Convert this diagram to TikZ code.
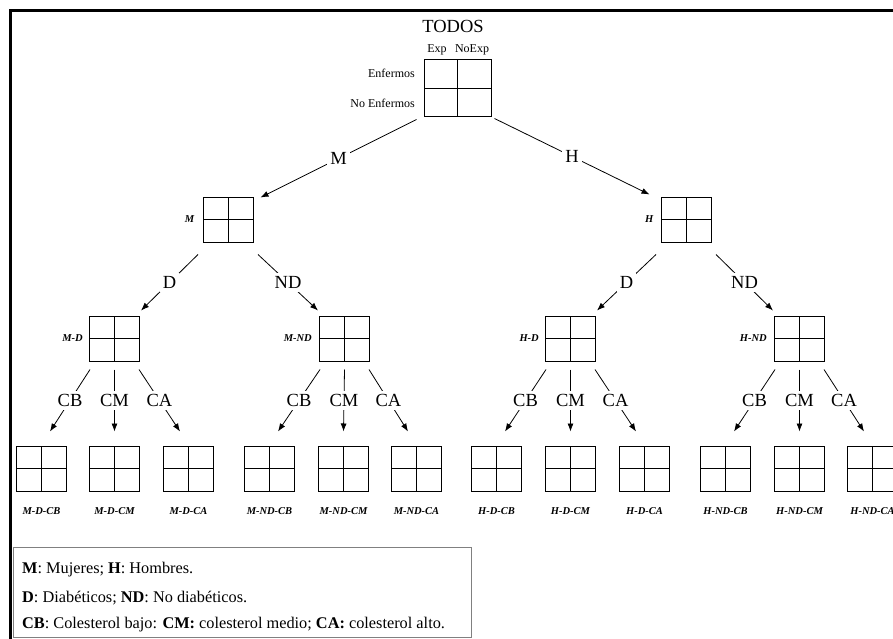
\documentclass[tikz,border=0pt]{standalone}
\usepackage{fontspec}
\setmainfont{Liberation Serif}
\usetikzlibrary{arrows.meta,positioning}

\tikzset{
  tabla/.style={draw, line width=1pt, minimum width=50pt, minimum height=45pt, inner sep=0pt,
    path picture={\draw[line width=1pt] (path picture bounding box.north) -- (path picture bounding box.south)
      (path picture bounding box.west) -- (path picture bounding box.east);}},
  rama/.style={-{Latex[length=8pt,width=6pt]}, line width=0.8pt},
  etiq/.style={fill=white, inner sep=3pt, font=\fontsize{18.5}{20}\selectfont},
  nombre/.style={font=\fontsize{10.5}{12}\selectfont\bfseries\itshape, inner sep=0pt},
  chico/.style={font=\fontsize{12}{14}\selectfont, inner sep=0pt},
  leyenda/.style={font=\fontsize{16.3}{18}\selectfont, anchor=west, inner sep=0pt},
}

\begin{document}
\begin{tikzpicture}[x=1pt, y=-1pt]
\useasboundingbox ( 0, 0 ) rectangle ( 893, 639 );

% marco
            \draw [line width=3pt] ( 10, 639 ) -- ( 10, 10.5 ) -- ( 893, 10.5 );

% raiz
            \node [tabla, minimum width=67pt, minimum height=57pt] (todos) at ( 457.5, 88.5 ) {};
            \node [font=\fontsize{18.5}{20}\selectfont, inner sep=0pt] (titulo) at ( 453, 26 ) {TODOS};
            \node [chico] (exp) at ( 437, 50 ) {Exp};
            \node [chico] (noexp) at ( 472, 50 ) {NoExp};
            \node [chico, anchor=east] (enf) at ( 415, 73 ) {Enfermos};
            \node [chico, anchor=east] (noenf) at ( 415, 103 ) {No Enfermos};

% sexo
            \node [tabla] (m) at ( 228, 219.5 ) {};
            \node [tabla] (h) at ( 686, 219.5 ) {};
            \node [nombre, left=8pt of m] (m-t) {M};
            \node [nombre, left=7pt of h] (h-t) {H};
            \draw [rama] ([shift={( -7, 2 )}]todos.south west) -- node [etiq] (lm) {M} ([shift={( 7, 1 )}]m.north east);
            \draw [rama] ([shift={( 3, 1 )}]todos.south east) -- node [etiq] (lh) {H} ([shift={( -11, -2 )}]h.north west);

% diabetes
            \node [tabla] (md) at ( 114.5, 338.5 ) {};
            \node [tabla] (mnd) at ( 344.5, 338.5 ) {};
            \node [tabla] (hd) at ( 570.5, 338.5 ) {};
            \node [tabla] (hnd) at ( 799.5, 338.5 ) {};
            \node [nombre, left=6pt of md] (md-t) {M-D};
            \node [nombre, left=7pt of mnd] (mnd-t) {M-ND};
            \node [nombre, left=6pt of hd] (hd-t) {H-D};
            \node [nombre, left=7pt of hnd] (hnd-t) {H-ND};
            \foreach \p/\a/\b in {m/md/mnd, h/hd/hnd} {
              \draw [rama] ([shift={( -30, 12 )}]\p.south) -- node [etiq] {D} ([shift={( 26.5, -5 )}]\a.north);
              \draw [rama] ([shift={( 30, 12 )}]\p.south) -- node [etiq] {ND} ([shift={( -26.5, -5 )}]\b.north);
            }

% colesterol
            \foreach \n/\x/\t in {mdcb/41.5/M-D-CB, mdcm/114.5/M-D-CM, mdca/188.5/M-D-CA,
                                  mndcb/269.5/M-ND-CB, mndcm/343.5/M-ND-CM, mndca/416.5/M-ND-CA,
                                  hdcb/496.5/H-D-CB, hdcm/570.5/H-D-CM, hdca/644.5/H-D-CA,
                                  hndcb/725.5/H-ND-CB, hndcm/799.5/H-ND-CM, hndca/872.5/H-ND-CA} {
              \node [tabla] (\n) at ( \x, 468.5 ) {};
              \node [nombre, below=16pt of \n] (\n-t) {\t};
            }
            \foreach \p/\a/\b/\c in {md/mdcb/mdcm/mdca, mnd/mndcb/mndcm/mndca,
                                     hd/hdcb/hdcm/hdca, hnd/hndcb/hndcm/hndca} {
              \draw [rama] ([shift={( -24.5, 8 )}]\p.south) -- node [etiq] {CB} ([shift={( 8.5, -14 )}]\a.north);
              \draw [rama] ([shift={( 0, 8 )}]\p.south) -- node [etiq] {CM} ([shift={( 0, -14 )}]\b.north);
              \draw [rama] ([shift={( 24.5, 8 )}]\p.south) -- node [etiq] {CA} ([shift={( -8.5, -14 )}]\c.north);
            }

% leyenda
            \draw [gray, line width=0.6pt] ( 13, 547 ) rectangle ( 471, 637 );
            \node [leyenda] (ley1) at ( 22, 570 ) {\textbf{M}: Mujeres; \textbf{H}: Hombres.};
            \node [leyenda] (ley2) at ( 22, 598 ) {\textbf{D}: Diabéticos; \textbf{ND}: No diabéticos.};
            \node [leyenda] (ley3) at ( 22, 625 ) {\textbf{CB}: Colesterol bajo: \textbf{CM:} colesterol medio; \textbf{CA:} colesterol alto.};
        \end{tikzpicture}
\end{document}
